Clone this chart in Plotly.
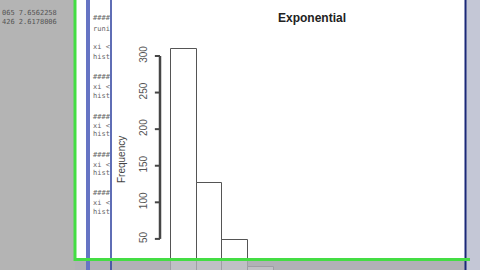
import plotly.graph_objects as go

# Histogram data (exponential sample), bin breaks of width 0.5
bin_left = [0.0, 0.5, 1.0, 1.5, 2.0, 2.5]
freq = [309, 126, 49, 12, 3, 1]
bin_width = 0.5
ytick_vals = [50, 100, 150, 200, 250, 300]
ytick_text = ["50", "100", "150", "200", "250", "300"]

W, H = 480, 270

def px(x):
    return x / W

def py(y):
    return 1 - y / H

AXIS_X = -0.214  # data-x position of the R y-axis line
TICK_LEN = 0.1

fig = go.Figure()
fig.add_trace(go.Bar(
    x=[b + bin_width / 2 for b in bin_left], y=freq, width=bin_width,
    marker=dict(color="white", line=dict(color="#555555", width=1)),
    showlegend=False, hoverinfo="skip"))

# R-style y axis: line from first to last tick, plus tick marks
fig.add_trace(go.Scatter(x=[AXIS_X, AXIS_X], y=[ytick_vals[0], ytick_vals[-1]],
                         mode="lines", line=dict(color="rgb(70,70,70)", width=2.5),
                         showlegend=False, hoverinfo="skip"))
for v in ytick_vals:
    fig.add_trace(go.Scatter(x=[AXIS_X - TICK_LEN, AXIS_X], y=[v, v], mode="lines",
                             line=dict(color="rgb(70,70,70)", width=2),
                             showlegend=False, hoverinfo="skip"))

shapes = []
# white panel
shapes.append(dict(type="rect", xref="paper", yref="paper", x0=px(75), x1=px(466),
                   y0=py(260), y1=py(0), fillcolor="white", line_width=0, layer="below"))
# right strip
shapes.append(dict(type="rect", xref="paper", yref="paper", x0=px(466), x1=1,
                   y0=0, y1=1, fillcolor="#c4c7d6", line_width=0, layer="below"))
# bottom gray overlay
shapes.append(dict(type="rect", xref="paper", yref="paper", x0=px(75), x1=px(466),
                   y0=0, y1=py(261), fillcolor="rgba(176,176,182,0.8)", line_width=0, layer="above"))
# blue bands
shapes.append(dict(type="rect", xref="paper", yref="paper", x0=px(86), x1=px(90),
                   y0=0, y1=1, fillcolor="#6674c4", line_width=0, layer="above"))
shapes.append(dict(type="line", xref="paper", yref="paper", x0=px(111), x1=px(111),
                   y0=0, y1=1, line=dict(color="#2a3c9c", width=1.5), layer="above"))
shapes.append(dict(type="line", xref="paper", yref="paper", x0=px(465.5), x1=px(465.5),
                   y0=0, y1=1, line=dict(color="#1a2878", width=2), layer="above"))
# green frame
shapes.append(dict(type="line", xref="paper", yref="paper", x0=px(75), x1=px(75),
                   y0=py(261), y1=1, line=dict(color="#44dd44", width=3), layer="above"))
shapes.append(dict(type="line", xref="paper", yref="paper", x0=px(74), x1=px(470),
                   y0=py(259.5), y1=py(259.5), line=dict(color="#44dd44", width=3), layer="above"))
for s in shapes:
    fig.add_shape(**s)

# code text in the side panel
code_lines = [(18, "####"), (29, "runi"), (47, "xi &lt;"), (57, "hist"),
              (77, "####"), (87, "xi &lt;"), (96, "hist"),
              (117, "####"), (126, "xi &lt;"), (134, "hist"),
              (155, "####"), (165, "xi &lt;"), (173, "hist"),
              (193, "####"), (203, "xi &lt;"), (212, "hist")]
for yy, t in code_lines:
    fig.add_annotation(x=px(91), y=py(yy), xref="paper", yref="paper", text=t,
                       showarrow=False, xanchor="left", yanchor="middle",
                       font=dict(family="DejaVu Sans Mono", size=7, color="#666666"))
for yy, t in [(13, "065 7.6562258"), (22, "426 2.6178006")]:
    fig.add_annotation(x=px(0), y=py(yy), xref="paper", yref="paper", text=t,
                       showarrow=False, xanchor="left", yanchor="middle",
                       font=dict(family="DejaVu Sans Mono", size=7, color="#555555"))

fig.add_annotation(x=px(121), y=py(160), xref="paper", yref="paper", text="Frequency",
                   showarrow=False, textangle=-90, xanchor="center", yanchor="middle",
                   font=dict(family="Liberation Sans", size=10, color="#444444"))

fig.update_layout(
    width=W, height=H, margin=dict(l=0, r=0, t=0, b=0),
    paper_bgcolor="#b4b4b4", plot_bgcolor="rgba(0,0,0,0)",
    title=dict(text="<b>Exponential</b>", x=px(312), y=py(18), xanchor="center",
               yanchor="middle", font=dict(family="Liberation Sans", size=12, color="#222222")),
    xaxis=dict(domain=[px(150), px(466)], range=[-0.4086, 5.74], visible=False),
    yaxis=dict(domain=[0, 1], range=[7.5, 376.5], showgrid=False, zeroline=False,
               showline=False, tickvals=ytick_vals, ticktext=ytick_text,
               ticks="", tickangle=-90, ticklabelstandoff=0,
               tickfont=dict(family="Liberation Sans", size=10, color="#555555")),
    bargap=0,
)

fig.write_html("out.html")
